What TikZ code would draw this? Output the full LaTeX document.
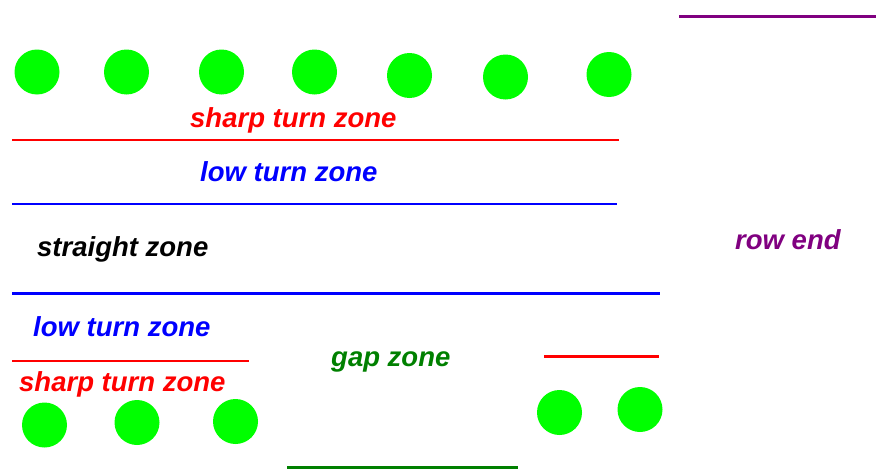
\documentclass[tikz,border=0pt]{standalone}
\usepackage{fontspec}
\setmainfont{Liberation Sans}
\begin{document}
\begin{tikzpicture}[x=1pt,y=-1pt,
  dot/.style={circle,fill=treegreen,draw=none,minimum size=45pt,inner sep=0pt},
  zonetext/.style={anchor=base west,inner sep=0pt,font=\fontsize{27.5}{30}\selectfont\bfseries\itshape},
  zoneline/.style={line width=2.8pt}]
\definecolor{treegreen}{RGB}{0,255,0}
\definecolor{gapgreen}{RGB}{0,128,0}
\definecolor{rowpurple}{RGB}{128,0,128}
\useasboundingbox (0,0) rectangle (876,471);
% top row of trees
\node[dot] (t1) at (37,72) {};
\node[dot] (t2) at (126.5,72) {};
\node[dot] (t3) at (221.5,72) {};
\node[dot] (t4) at (314.5,72) {};
\node[dot] (t5) at (409.5,75.5) {};
\node[dot] (t6) at (505.5,77) {};
\node[dot] (t7) at (609,74.5) {};
% bottom row of trees
\node[dot] (b1) at (44.5,425) {};
\node[dot] (b2) at (137,422.5) {};
\node[dot] (b3) at (235.5,421.5) {};
\node[dot] (b4) at (559.5,412.5) {};
\node[dot] (b5) at (640,409.5) {};
% zone lines
\draw[zoneline,red] (12,140) -- (619,140);
\draw[zoneline,blue] (12,204) -- (617,204);
\draw[zoneline,rowpurple] (679,16.5) -- (876,16.5);
\draw[zoneline,blue] (12,293.5) -- (660,293.5);
\draw[zoneline,red] (12,361) -- (249,361);
\draw[zoneline,red] (544,356.5) -- (659,356.5);
\draw[zoneline,gapgreen] (287,467.5) -- (518,467.5);
% labels
\node[zonetext,red] (l1) at (190,127.5) {sharp turn zone};
\node[zonetext,blue] (l2) at (200,181) {low turn zone};
\node[zonetext,black] (l3) at (37,256) {straight zone};
\node[zonetext,rowpurple] (l4) at (735,249) {row end};
\node[zonetext,blue] (l5) at (33,336) {low turn zone};
\node[zonetext,red] (l6) at (19,391.5) {sharp turn zone};
\node[zonetext,gapgreen] (l7) at (331,366) {gap zone};
\end{tikzpicture}
\end{document}
